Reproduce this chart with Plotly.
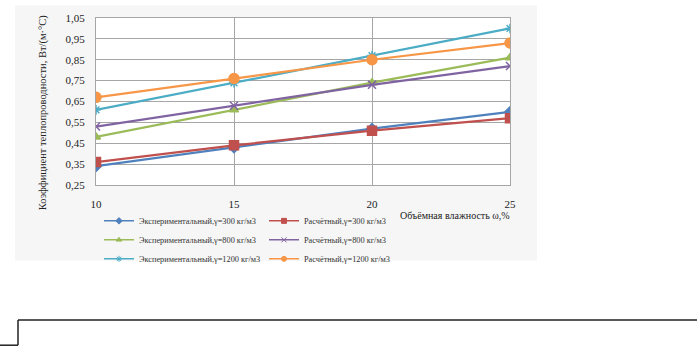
import plotly.graph_objects as go

# ---- data ----
moisture = [10, 15, 20, 25]
exp_300 = [0.34, 0.43, 0.52, 0.60]
calc_300 = [0.36, 0.44, 0.51, 0.57]
exp_800 = [0.48, 0.61, 0.74, 0.86]
calc_800 = [0.53, 0.63, 0.73, 0.82]
exp_1200 = [0.61, 0.74, 0.87, 1.00]
calc_1200 = [0.67, 0.76, 0.85, 0.93]
y_ticks = [0.25, 0.35, 0.45, 0.55, 0.65, 0.75, 0.85, 0.95, 1.05]
x_ticks = [10, 15, 20, 25]

names = [
    "Экспериментальный,γ=300 кг/м3", "Расчётный,γ=300 кг/м3",
    "Экспериментальный,γ=800 кг/м3", "Расчётный,γ=800 кг/м3",
    "Экспериментальный,γ=1200 кг/м3", "Расчётный,γ=1200 кг/м3",
]
series = [exp_300, calc_300, exp_800, calc_800, exp_1200, calc_1200]
colors = ["#4F81BD", "#C0504D", "#9BBB59", "#8064A2", "#4BACC6", "#F79646"]
symbols = ["diamond", "square", "triangle-up", "x-thin-open", "asterisk-open", "circle"]
msizes = [8, 9, 8, 8, 8, 10]

W, H = 697, 352
L, R, T, B = 96, 510, 13, 185
FONT = "Liberation Serif, Times New Roman, serif"

def px(x):
    return (x - L) / (R - L)

def py(y):
    return (B - y) / (B - T)

fig = go.Figure()
for n, s, c, sym, ms in zip(names, series, colors, symbols, msizes):
    fig.add_trace(go.Scatter(
        x=moisture, y=s, name=n, mode="lines+markers", showlegend=False,
        line=dict(color=c, width=2.25),
        marker=dict(symbol=sym, size=ms, color=c, line=dict(color=c, width=1.5)),
    ))
# legend entries (small markers as in the reference legend)
for n, c, sym in zip(names, colors, symbols):
    fig.add_trace(go.Scatter(
        x=[None], y=[None], name=n, mode="lines+markers",
        line=dict(color=c, width=1.5),
        marker=dict(symbol=sym, size=5, color=c, line=dict(color=c, width=1)),
    ))

fig.update_layout(
    width=W, height=H,
    margin=dict(l=L, r=W - R, t=T, b=H - B, pad=0),
    paper_bgcolor="white", plot_bgcolor="white",
    separators=", ",
    font=dict(family=FONT, size=11, color="#222"),
    showlegend=True,
    legend=dict(
        orientation="h", x=px(99), y=py(207), xanchor="left", yanchor="top",
        entrywidth=120, font=dict(family=FONT, size=8.3, color="#333"),
        bgcolor="rgba(0,0,0,0)", tracegroupgap=0, itemwidth=30,
    ),
    xaxis=dict(
        range=[10, 25], tickvals=x_ticks, ticktext=[str(v) for v in x_ticks],
        showgrid=True, gridcolor="#a6a6a6", gridwidth=1,
        showline=True, linecolor="#a6a6a6", mirror=True, zeroline=False,
        ticks="", ticklabelstandoff=9, tickfont=dict(size=11),
    ),
    yaxis=dict(
        range=[0.25, 1.05], tickvals=y_ticks, tickformat=".2f",
        showgrid=True, gridcolor="#a6a6a6", gridwidth=1,
        showline=True, linecolor="#a6a6a6", mirror=True, zeroline=False,
        ticks="", ticklabelstandoff=8, tickfont=dict(size=11),
    ),
    shapes=[
        dict(type="rect", xref="paper", yref="paper", x0=px(15), x1=px(537),
             y0=py(263), y1=py(0), fillcolor="#f6f6f6", line=dict(width=0), layer="below"),
        dict(type="rect", xref="paper", yref="paper", x0=0, x1=1, y0=0, y1=1,
             fillcolor="white", line=dict(width=0), layer="below"),
        dict(type="line", xref="paper", yref="paper", x0=px(18), x1=px(697),
             y0=py(324), y1=py(324), line=dict(color="#222", width=1.5)),
        dict(type="line", xref="paper", yref="paper", x0=px(18), x1=px(18),
             y0=py(324), y1=py(350), line=dict(color="#222", width=1.5)),
        dict(type="line", xref="paper", yref="paper", x0=px(0), x1=px(18),
             y0=py(350), y1=py(350), line=dict(color="#222", width=1.5)),
    ],
    annotations=[
        dict(text="Коэффициент теплопроводности, Вт/(м·°С)", xref="paper", yref="paper",
             x=px(43), y=py(110), textangle=-90, showarrow=False,
             xanchor="center", yanchor="middle", font=dict(family=FONT, size=10.5, color="#222")),
        dict(text="Объёмная влажность ω,%", xref="paper", yref="paper",
             x=px(512), y=py(216), showarrow=False,
             xanchor="right", yanchor="middle", font=dict(family=FONT, size=10, color="#222")),
    ],
)

fig.write_html("out.html")
